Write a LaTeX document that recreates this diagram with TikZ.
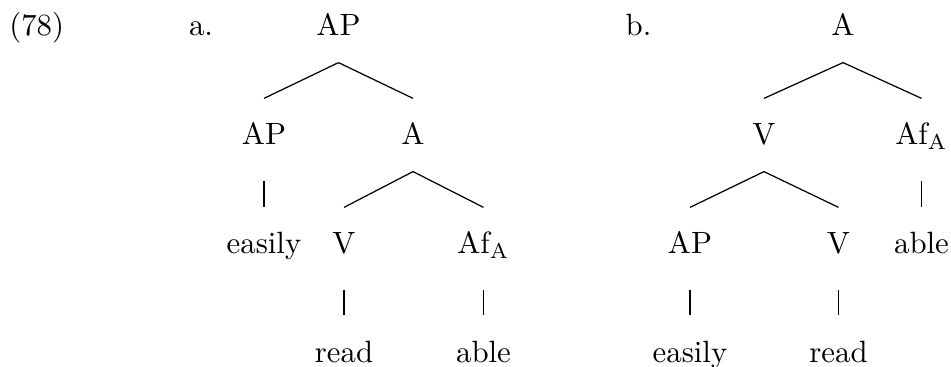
\documentclass[tikz,border=0pt]{standalone}
\begin{document}
\begin{tikzpicture}[x=0.3247pt,y=-0.3247pt,
  lab/.style={anchor=base,inner sep=0pt,text height=14.94pt,text depth=8.44pt},
  edge/.style={line width=0.4pt},
  vert/.style={edge,shorten <=2.92pt}]
\useasboundingbox (0,0) rectangle (951,367);
% labels
\node[lab] (ex) at (36.7,36) {(78)};
\node[lab] (la) at (201,36) {a.};
\node[lab] (lb) at (638.5,36) {b.};
% tree a
\node[lab] (aAP) at (338.5,36) {AP};
\node[lab] (aAPl) at (264,145) {AP};
\node[lab] (aA) at (413,145) {A};
\node[lab] (aeasily) at (264,254) {easily};
\node[lab] (aV) at (344,254) {V};
\node[lab] (aAf) at (483.5,254) {Af$_{\mathrm{A}}$};
\node[lab] (aread) at (344,362) {read};
\node[lab] (aable) at (483.5,362) {able};
\draw[edge] (aAP.south) -- (aAPl.north);
\draw[edge] (aAP.south) -- (aA.north);
\draw[vert] (aAPl.south) -- (aAPl.south |- aeasily.north);
\draw[edge] (aA.south) -- (aV.north);
\draw[edge] (aA.south) -- (aAf.north);
\draw[vert] (aV.south) -- (aV.south |- aread.north);
\draw[vert] (aAf.south) -- (aAf.south |- aable.north);
% tree b
\node[lab] (bA) at (843,36) {A};
\node[lab] (bV) at (764,145) {V};
\node[lab] (bAf) at (921.5,145) {Af$_{\mathrm{A}}$};
\node[lab] (bAP) at (690,254) {AP};
\node[lab] (bV2) at (838.5,254) {V};
\node[lab] (bable) at (921.5,254) {able};
\node[lab] (beasily) at (690,362) {easily};
\node[lab] (bread) at (838.5,362) {read};
\draw[edge] (bA.south) -- (bV.north);
\draw[edge] (bA.south) -- (bAf.north);
\draw[edge] (bV.south) -- (bAP.north);
\draw[edge] (bV.south) -- (bV2.north);
\draw[vert] (bAf.south) -- (bAf.south |- bable.north);
\draw[vert] (bAP.south) -- (bAP.south |- beasily.north);
\draw[vert] (bV2.south) -- (bV2.south |- bread.north);
\end{tikzpicture}
\end{document}
